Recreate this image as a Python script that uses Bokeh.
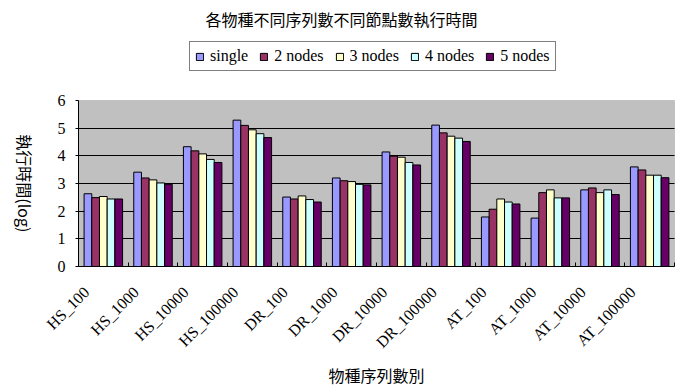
import math

from bokeh.embed import file_html
from bokeh.models import (BoxAnnotation, FixedTicker, Label, Legend,
                          LegendItem, Range1d)
from bokeh.plotting import figure
from bokeh.resources import INLINE

# Run time (log scale) per dataset and node count
categories = ["HS_100", "HS_1000", "HS_10000", "HS_100000",
              "DR_100", "DR_1000", "DR_10000", "DR_100000",
              "AT_100", "AT_1000", "AT_10000", "AT_100000"]
series_names = ["single", "2 nodes", "3 nodes", "4 nodes", "5 nodes"]
single = [2.63, 3.41, 4.33, 5.29, 2.51, 3.20, 4.14, 5.11, 1.79, 1.75, 2.77, 3.60]
nodes2 = [2.49, 3.20, 4.18, 5.10, 2.44, 3.10, 3.99, 4.83, 2.07, 2.67, 2.84, 3.49]
nodes3 = [2.53, 3.13, 4.07, 4.94, 2.55, 3.07, 3.95, 4.71, 2.44, 2.77, 2.67, 3.30]
nodes4 = [2.44, 3.02, 3.87, 4.80, 2.42, 2.97, 3.76, 4.64, 2.33, 2.48, 2.77, 3.30]
nodes5 = [2.44, 2.97, 3.76, 4.66, 2.33, 2.95, 3.67, 4.52, 2.26, 2.48, 2.60, 3.21]
y_ticks = [0, 1, 2, 3, 4, 5, 6]

series = [single, nodes2, nodes3, nodes4, nodes5]
colors = ["#9999FF", "#993366", "#FFFFCC", "#CCFFFF", "#660066"]

SERIF = "Liberation Serif"
CJK = "Noto Sans CJK TC"

W, H = 684, 385
n = len(categories)
y_max = y_ticks[-1]

# the frame fills the whole page; the value area sits at these pixel edges
area_left, area_right, area_top, area_bottom = 78, 674, 100, 266
px_x = (area_right - area_left) / n          # pixels per category slot
px_y = (area_bottom - area_top) / y_max      # pixels per value unit
x_range = Range1d(-area_left / px_x, n + (W - area_right) / px_x)
y_range = Range1d(-(H - area_bottom) / px_y, area_bottom / px_y)

p = figure(width=W, height=H, output_backend="svg", toolbar_location=None,
           x_range=x_range, y_range=y_range,
           min_border_left=0, min_border_right=0,
           min_border_top=0, min_border_bottom=0)
p.background_fill_color = "white"
p.border_fill_color = "white"
p.outline_line_color = None

# grey plot area behind the bars
p.add_layout(BoxAnnotation(left=0, right=n, bottom=0, top=y_max,
                           fill_color="#C0C0C0", fill_alpha=1,
                           line_color="#808080", line_width=1, level="image"))

# horizontal grid lines across the value area only
grid = p.ygrid[0]
grid.ticker = FixedTicker(ticks=y_ticks[1:-1])
grid.grid_line_color = "black"
grid.grid_line_width = 1
if "cross_bounds" in grid.properties():
    grid.cross_bounds = (0, n)
else:
    grid.grid_line_color = None
    inner = y_ticks[1:-1]
    p.multi_line(xs=[[0, n] for _ in inner], ys=[[t, t] for t in inner],
                 line_color="black", line_width=1)
p.xgrid.grid_line_color = None

# grouped bars: five bars side by side inside each category slot
bar_w = 0.155
items = []
for k, (name, vals, col) in enumerate(zip(series_names, series, colors)):
    xs = [i + 0.5 + (k - 2) * bar_w for i in range(n)]
    r = p.vbar(x=xs, top=vals, width=bar_w, fill_color=col,
               line_color="black", line_width=1)
    items.append(LegendItem(label=name, renderers=[r]))

# x axis pinned at y = 0: slanted labels, small inward ticks at slot edges
label_pos = [i + 0.16 for i in range(n)]
xa = p.xaxis[0]
xa.fixed_location = 0
xa.bounds = (0, n)
xa.ticker = FixedTicker(ticks=label_pos, minor_ticks=list(range(n + 1)))
xa.major_label_overrides = {c: lab for c, lab in zip(label_pos, categories)}
xa.major_label_orientation = math.pi / 4
xa.major_tick_line_color = None
xa.minor_tick_line_color = "black"
xa.minor_tick_in = 4
xa.minor_tick_out = 0
xa.axis_line_color = "black"
xa.major_label_text_font = SERIF
xa.major_label_text_font_size = "16px"
xa.major_label_text_color = "black"
xa.major_label_standoff = 17

# y axis pinned at x = 0
ya = p.yaxis[0]
ya.fixed_location = 0
ya.bounds = (0, y_max)
ya.ticker = FixedTicker(ticks=y_ticks)
ya.major_tick_out = 3
ya.major_tick_in = 0
ya.minor_tick_line_color = None
ya.axis_line_color = "black"
ya.major_label_text_font = SERIF
ya.major_label_text_font_size = "16px"
ya.major_label_text_color = "black"
ya.major_label_standoff = 10


def page_label(x, y, text, angle=0.0):
    # x, y in page pixels measured from the top-left corner
    return Label(x=x, y=H - y, x_units="screen", y_units="screen",
                 text=text, angle=angle, text_font=CJK,
                 text_font_size="16px", text_color="black",
                 text_align="center", text_baseline="middle")


p.add_layout(page_label(341, 18, "各物種不同序列數不同節點數執行時間"))
p.add_layout(page_label(376, 374, "物種序列數別"))
p.add_layout(page_label(24, 183, "執行時間(log)", angle=-math.pi / 2))

legend = Legend(items=items, orientation="horizontal",
                location=(189, H - 71),
                glyph_width=9, glyph_height=9, label_standoff=6, spacing=11,
                padding=5, margin=0, label_text_font=SERIF,
                label_text_font_size="16px", label_text_color="black",
                border_line_color="black", border_line_width=1,
                background_fill_color="white", background_fill_alpha=1)
p.add_layout(legend)

open("out.html", "w").write(file_html(p, INLINE))
